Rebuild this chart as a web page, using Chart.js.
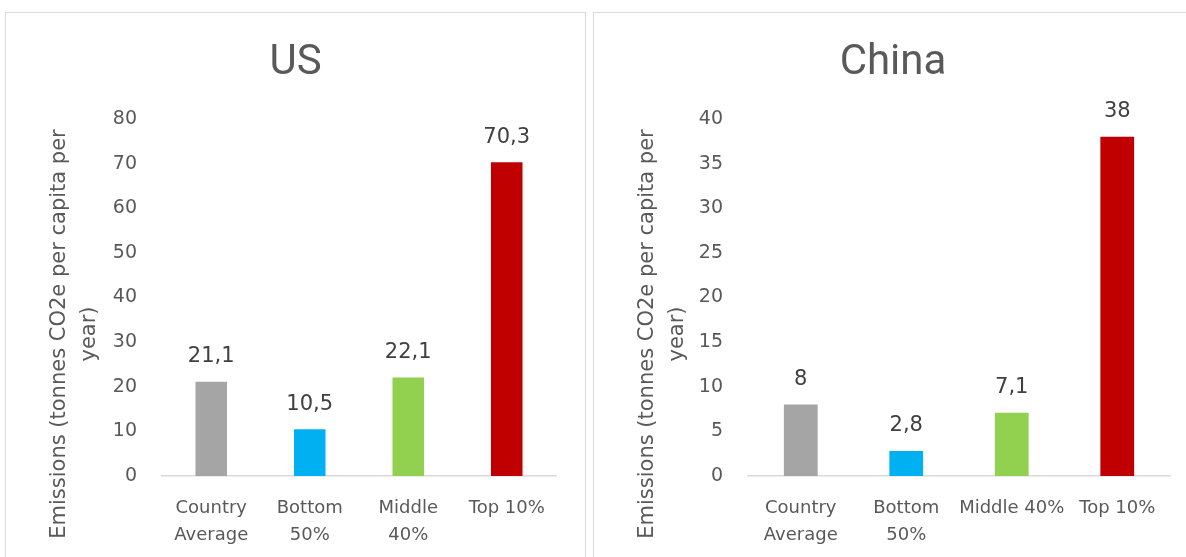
<!DOCTYPE html>
<html><head><meta charset="utf-8">
<script src="https://cdn.jsdelivr.net/npm/chart.js@4.4.1/dist/chart.umd.min.js"></script>
<style>
html,body{margin:0;padding:0;background:#fff;overflow:hidden;width:1186px;height:557px;}
.panel{position:absolute;top:12px;height:600px;border:1px solid #d9d9d9;box-sizing:border-box;background:#fff;}
#p1{left:5px;width:581px;}
#p2{left:593px;width:600px;}
canvas{position:absolute;left:0;top:0;}
</style></head>
<body>
<div class="panel" id="p1"><canvas id="c1" width="579" height="544"></canvas></div>
<div class="panel" id="p2"><canvas id="c2" width="598" height="544"></canvas></div>
<script>
// ---- data ----
const titleUS = "US";
const titleChina = "China";
const categoriesUS = [["Country", "Average"], ["Bottom", "50%"], ["Middle", "40%"], "Top 10%"];
const categoriesChina = [["Country", "Average"], ["Bottom", "50%"], "Middle 40%", "Top 10%"];
const valuesUS = [21.1, 10.5, 22.1, 70.3];
const valuesChina = [8, 2.8, 7.1, 38];
const yMaxUS = 80, yStepUS = 10;
const yMaxChina = 40, yStepChina = 5;
const yTitleLines = ["Emissions (tonnes CO2e per capita per", "year)"];
const barColors = ["#A5A5A5", "#00B0F0", "#92D050", "#C00000"];

Chart.defaults.font.family = "'DejaVu Sans', sans-serif";
Chart.defaults.color = "#595959";

const valueLabels = {
  id: "valueLabels",
  afterDatasetsDraw(chart) {
    const ctx = chart.ctx;
    const meta = chart.getDatasetMeta(0);
    const data = chart.data.datasets[0].data;
    ctx.save();
    ctx.font = "21px 'DejaVu Sans'";
    ctx.fillStyle = "#404040";
    ctx.textAlign = "center";
    ctx.textBaseline = "middle";
    meta.data.forEach((bar, i) => {
      ctx.fillText(String(data[i]).replace(".", ","), bar.x, bar.y - 25);
    });
    ctx.restore();
  }
};

const panelText = {
  id: "panelText",
  afterDraw(chart, args, opts) {
    const ctx = chart.ctx;
    ctx.save();
    // panel title
    ctx.font = "42px Roboto";
    ctx.fillStyle = "#595959";
    ctx.textAlign = "center";
    ctx.textBaseline = "middle";
    ctx.fillText(opts.title, chart.width / 2, 50);
    // y axis title
    ctx.font = "21px 'DejaVu Sans'";
    ctx.textBaseline = "alphabetic";
    ctx.translate(0, 321);
    ctx.rotate(-Math.PI / 2);
    ctx.fillText(yTitleLines[0], 0, 59);
    ctx.fillText(yTitleLines[1], 0, 89);
    ctx.restore();
  }
};

function makeChart(id, title, cats, vals, yMax, yStep, padL, padR) {
  return new Chart(document.getElementById(id), {
    type: "bar",
    data: {
      labels: cats,
      datasets: [{
        data: vals,
        backgroundColor: barColors,
        borderWidth: 0,
        categoryPercentage: 1,
        barPercentage: 0.32
      }]
    },
    options: {
      responsive: false,
      animation: false,
      devicePixelRatio: 1,
      layout: { padding: { left: padL, right: padR, top: 106, bottom: 0 } },
      plugins: {
        legend: { display: false },
        tooltip: { enabled: false },
        title: { display: false },
        panelText: { title: title }
      },
      scales: {
        x: {
          grid: { display: false, drawTicks: false },
          border: { display: true, color: "#d9d9d9", width: 1.5 },
          ticks: {
            color: "#595959",
            font: { size: 18, lineHeight: 1.5 },
            padding: 19,
            maxRotation: 0,
            autoSkip: false
          },
          afterFit(s) { s.height = 81; }
        },
        y: {
          min: 0,
          max: yMax,
          grid: { display: false, drawTicks: false },
          border: { display: false },
          ticks: {
            stepSize: yStep,
            color: "#595959",
            font: { size: 19 },
            padding: 25
          },
          afterFit(s) { s.width = 80; }
        }
      }
    },
    plugins: [valueLabels, panelText]
  });
}

makeChart("c1", titleUS, categoriesUS, valuesUS, yMaxUS, yStepUS, 76, 29);
makeChart("c2", titleChina, categoriesChina, valuesChina, yMaxChina, yStepChina, 74, 22);
</script>
</body></html>
